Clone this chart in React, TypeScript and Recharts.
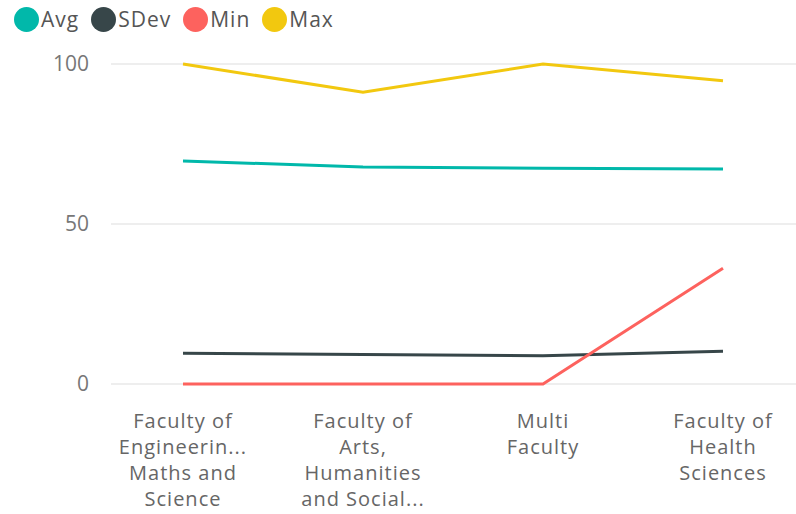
import React from "react";
import { LineChart, Line, XAxis, YAxis, CartesianGrid } from "recharts";

const categories = [
  "Faculty of Engineering, Maths and Science",
  "Faculty of Arts, Humanities and Social Sciences",
  "Multi Faculty",
  "Faculty of Health Sciences",
];
// how each category label is drawn (wrapped and truncated)
const tickLines = [
  ["Faculty of", "Engineerin...", "Maths and", "Science"],
  ["Faculty of", "Arts,", "Humanities", "and Social..."],
  ["Multi", "Faculty"],
  ["Faculty of", "Health", "Sciences"],
];
const avgValues = [69.7, 67.8, 67.4, 67.2];
const sdevValues = [9.6, 9.2, 8.8, 10.2];
const minValues = [0, 0, 0, 36.2];
const maxValues = [100, 91.2, 100, 94.8];
const yTicks = [0, 50, 100];

const series = [
  { key: "avg", name: "Avg", color: "#01B8AA" },
  { key: "sdev", name: "SDev", color: "#374649" },
  { key: "min", name: "Min", color: "#FD625E" },
  { key: "max", name: "Max", color: "#F2C80F" },
];

const data = categories.map((c, i) => ({
  name: c,
  idx: i,
  avg: avgValues[i],
  sdev: sdevValues[i],
  min: minValues[i],
  max: maxValues[i],
}));

const font = "'Open Sans', 'Noto Sans', sans-serif";

function CategoryTick(props: any) {
  const { x, y, payload } = props;
  const lines = tickLines[payload.index] || [payload.value];
  return (
    <text x={x} y={y} textAnchor="middle" fill="#666" fontSize={20} letterSpacing={1} fontFamily={font}>
      {lines.map((l, i) => (
        <tspan key={i} x={x} dy={i === 0 ? 42 : 26}>
          {l}
        </tspan>
      ))}
    </text>
  );
}

export default function App() {
  return (
    <div style={{ position: "absolute", left: 0, top: 0, width: 796, height: 514, background: "#fff" }}>
      <div style={{ position: "absolute", left: 14, top: 5, display: "flex", fontFamily: font, fontSize: 21, letterSpacing: 1, color: "#555" }}>
        {series.map((s) => (
          <div key={s.key} style={{ display: "flex", alignItems: "center", marginRight: 12 }}>
            <span style={{ width: 25, height: 25, borderRadius: 13, background: s.color, display: "inline-block", marginRight: 2 }} />
            <span>{s.name}</span>
          </div>
        ))}
      </div>
      <LineChart width={796} height={514} data={data} margin={{ top: 64, right: 0, left: 0, bottom: 6 }}>
        <CartesianGrid vertical={false} stroke="#e8e8e8" strokeWidth={1.5} />
        <XAxis
          dataKey="name"
          axisLine={false}
          tickLine={false}
          tickSize={0}
          interval={0}
          padding={{ left: 72, right: 73 }}
          height={124}
          tick={<CategoryTick />}
        />
        <YAxis
          domain={[0, 100]}
          ticks={yTicks}
          axisLine={false}
          tickLine={false}
          tickSize={0}
          tickMargin={22}
          width={111}
          tick={{ fill: "#777", fontSize: 21, fontFamily: font }}
        />
        {series.map((s) => (
          <Line
            key={s.key}
            dataKey={s.key}
            name={s.name}
            type="linear"
            stroke={s.color}
            strokeWidth={3}
            dot={false}
            activeDot={false}
            isAnimationActive={false}
          />
        ))}
      </LineChart>
    </div>
  );
}
